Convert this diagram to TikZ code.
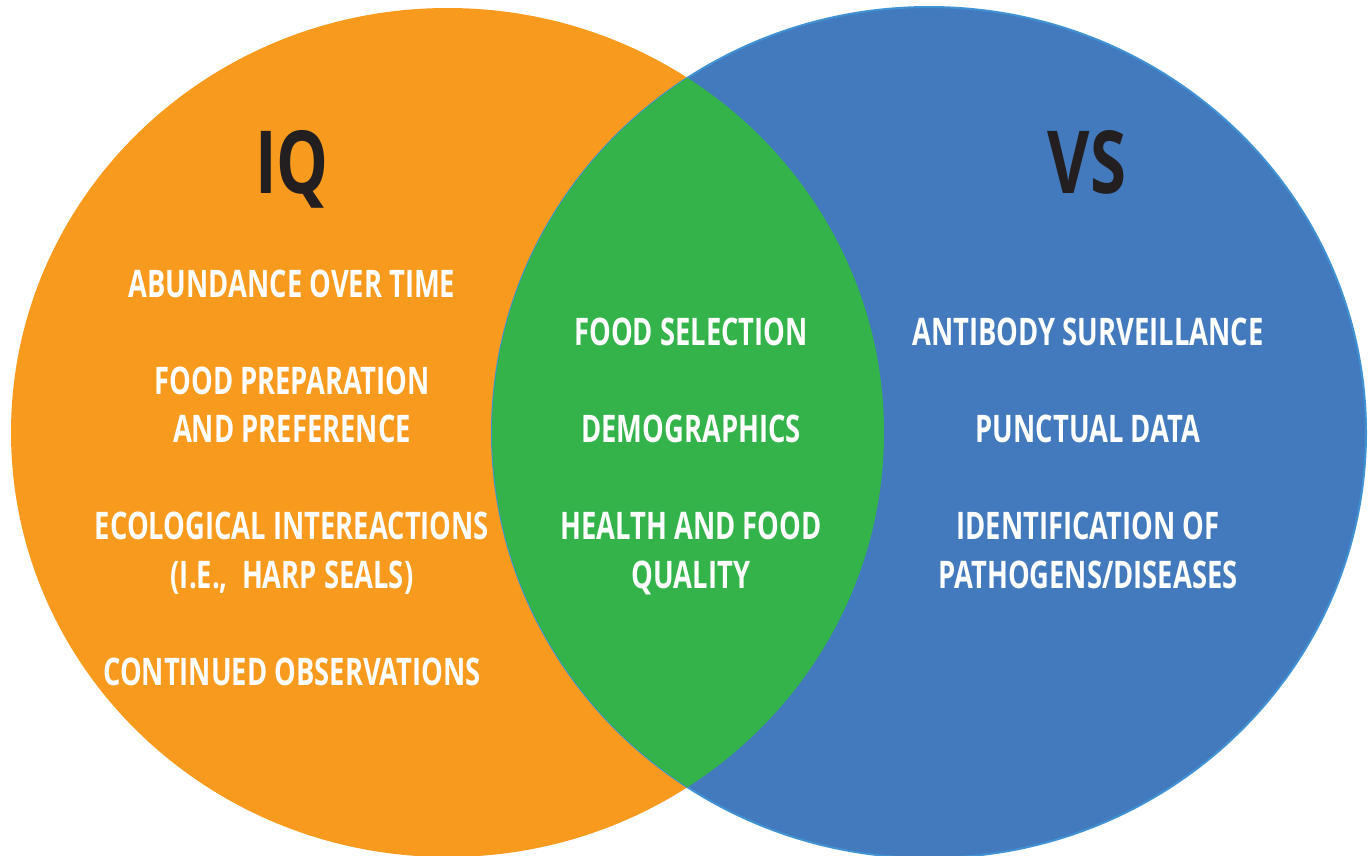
\documentclass[tikz,border=0pt]{standalone}
\usepackage{fontspec}
\setmainfont{Open Sans}[FakeStretch=0.72]
\newfontfamily\titlefont{Open Sans}[FakeStretch=0.75]
\definecolor{iqorange}{RGB}{247,154,30}
\definecolor{vsblue}{RGB}{66,122,189}
\definecolor{vsedge}{RGB}{64,146,212}
\definecolor{lensgreen}{RGB}{51,179,74}
\definecolor{titleink}{RGB}{35,31,32}
\tikzset{
  item/.style={anchor=base, align=center, text=white, inner sep=0pt,
    font=\bfseries\fontsize{38}{48.5}\selectfont},
  title/.style={anchor=base, text=titleink, inner sep=0pt,
    font=\titlefont\bfseries\fontsize{87}{87}\selectfont}
}
\begin{document}
\begin{tikzpicture}[x=1pt,y=-1pt]
\useasboundingbox (0,0) rectangle (1368,855);
\fill[iqorange] (447.5,432.5) ellipse [x radius=436.5, y radius=424.5];
\filldraw[fill=vsblue, draw=vsedge, line width=2pt] (929,432.5) ellipse [x radius=437, y radius=425.5];
\begin{scope}
  \clip (447.5,432.5) ellipse [x radius=436.5, y radius=424.5];
  \fill[lensgreen] (929,432.5) ellipse [x radius=437, y radius=425.5];
\end{scope}
\node[title] (iq) at (292,193) {IQ};
\node[title] (vs) at (1087,193) {VS};
\node[item] (l1) at (292,297) {ABUNDANCE OVER TIME};
\node[item] (l2) at (292,442.5) {FOOD PREPARATION\\AND PREFERENCE};
\node[item] (l3) at (292,588) {ECOLOGICAL INTEREACTIONS\\(I.E.,\ \ HARP SEALS)};
\node[item] (l4) at (292,685) {CONTINUED OBSERVATIONS};
\node[item] (m1) at (691,345.5) {FOOD SELECTION};
\node[item] (m2) at (691,442.5) {DEMOGRAPHICS};
\node[item] (m3) at (691,588) {HEALTH AND FOOD\\QUALITY};
\node[item] (r1) at (1088,345.5) {ANTIBODY SURVEILLANCE};
\node[item] (r2) at (1088,442.5) {PUNCTUAL DATA};
\node[item] (r3) at (1088,588) {IDENTIFICATION OF\\PATHOGENS/DISEASES};
\end{tikzpicture}
\end{document}
